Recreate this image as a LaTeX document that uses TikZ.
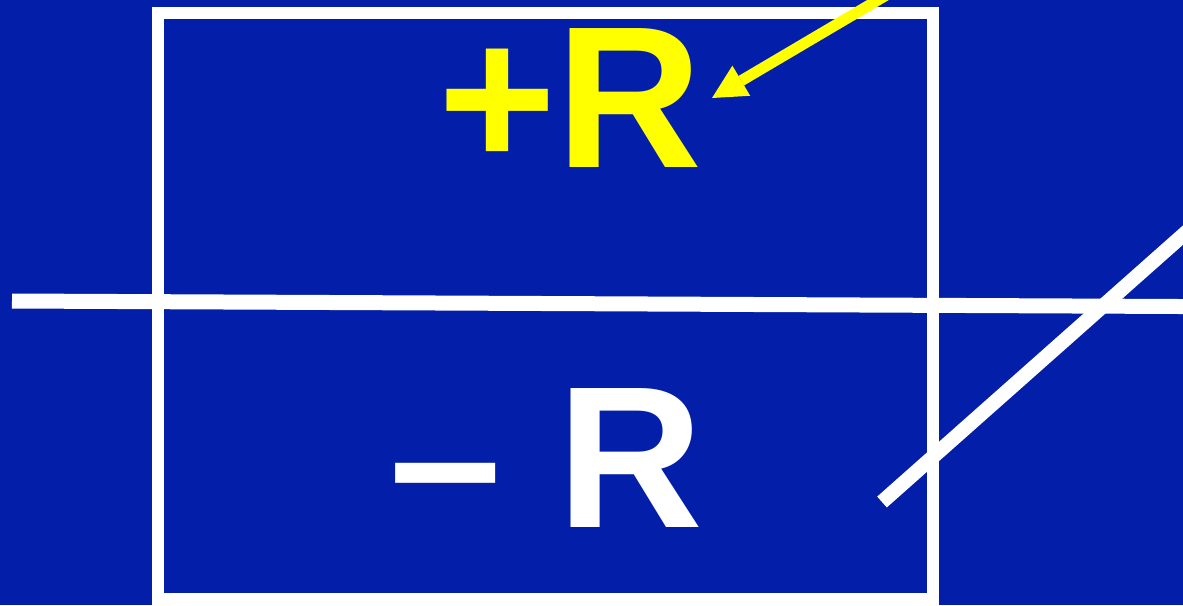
\documentclass[tikz,border=0pt]{standalone}
\usepackage{fontspec}
\setmainfont{Liberation Sans}
\usetikzlibrary{arrows.meta}
\definecolor{slideblue}{RGB}{3,31,170}
\definecolor{signyellow}{RGB}{255,255,0}
\begin{document}
\begin{tikzpicture}[x=0.5pt, y=-0.5pt, every node/.style={font=\fontsize{101}{101}\selectfont\bfseries, inner sep=0pt}]
  \useasboundingbox (0,0) rectangle (1183,605);
  \clip (0,0) rectangle (1183,605);
  \fill[slideblue] (0,0) rectangle (1183,605);
  \draw[white, line width=6pt] (158,13) rectangle (933,599);
  \draw[white, line width=7.5pt] (12,301) -- (1200,306.6);
  \draw[white, line width=7.25pt] (882,502) -- (1200,220);
  \node[anchor=base west, text=signyellow] (plusR) at (438,167) {+R};
  \node[anchor=base west, text=white] (minusR) at (389,527) {– R};
  % pointer
  \coordinate (tail) at (900,-13);
  \coordinate (tip) at (712,98);
  \draw[signyellow, line width=5.5pt, -{Triangle[length=17pt, width=17.5pt, line width=0pt]}] (tail) -- (tip);
\end{tikzpicture}
\end{document}
